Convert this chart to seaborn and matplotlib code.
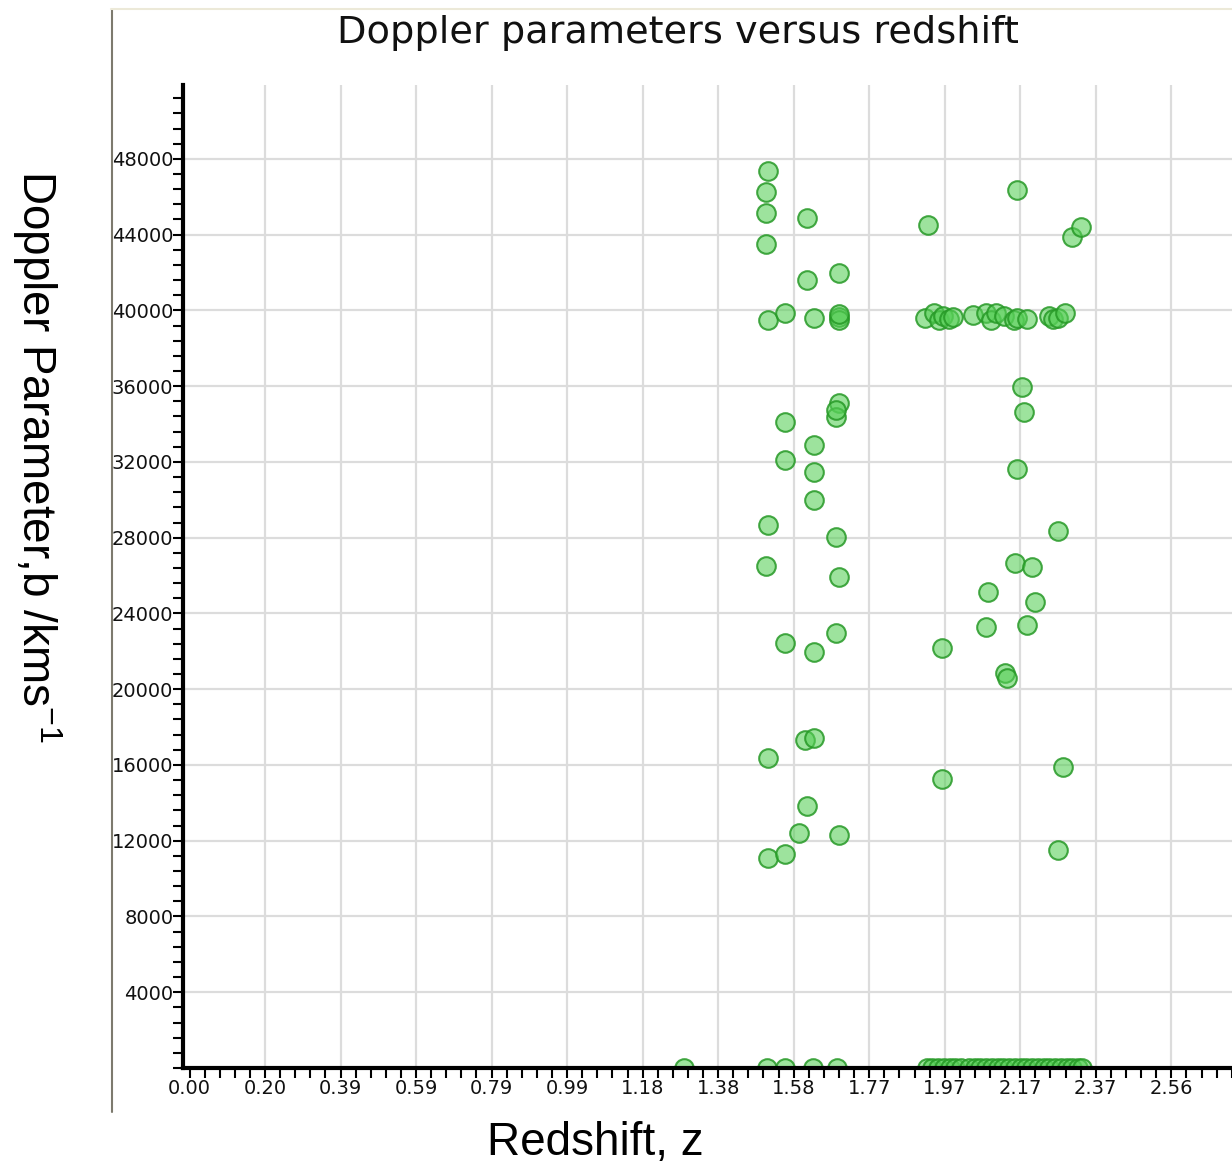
import numpy as np
import pandas as pd
import matplotlib
matplotlib.use("Agg")
import matplotlib.pyplot as plt
import seaborn as sns
from matplotlib.lines import Line2D
from matplotlib.ticker import MultipleLocator, FixedLocator, FuncFormatter

# ---------------- data ----------------
# left cluster (z ~ 1.29 - 1.70)
z_left = [1.510, 1.505, 1.505, 1.505, 1.510, 1.510, 1.505, 1.510, 1.510,
          1.555, 1.555, 1.555, 1.555, 1.555,
          1.612, 1.612, 1.606, 1.612, 1.591,
          1.630, 1.630, 1.630, 1.630, 1.630, 1.630,
          1.695, 1.695, 1.695, 1.695, 1.695, 1.689, 1.689, 1.689, 1.695, 1.689, 1.695]
b_left = [47370, 46260, 45150, 43520, 39500, 28670, 26510, 16370, 11090,
          39870, 34110, 32110, 22440, 11300,
          44890, 41610, 17320, 13840, 12410,
          39610, 32900, 31470, 30000, 21970, 17430,
          41980, 39660, 39500, 39800, 35120, 34380, 34750, 28040, 25930, 22970, 12300]

# right cluster (z ~ 1.92 - 2.33), scattered values
z_right = [1.929, 2.160, 2.305, 2.329,
           2.175, 2.178, 2.162, 2.269, 2.155, 2.199, 2.085, 2.209, 2.080, 2.188,
           1.965, 2.129, 2.134, 2.282, 1.965, 2.269]
b_right = [44520, 46370, 43890, 44410,
           35960, 34640, 31630, 28360, 26670, 26460, 25140, 24610, 23290, 23390,
           22180, 20860, 20590, 15890, 15260, 11510]

# right cluster, row near 40000 km/s
z_row = [1.921, 1.944, 1.957, 1.968, 1.983, 1.994, 2.046, 2.080, 2.092,
         2.106, 2.126, 2.152, 2.162, 2.188, 2.243, 2.256, 2.269, 2.287]
b_row = [39600, 39870, 39500, 39710, 39550, 39650, 39760, 39870, 39500,
         39870, 39710, 39500, 39600, 39550, 39710, 39550, 39600, 39870]

# points sitting on b = 0
z_zero = [1.291, 1.508, 1.556, 1.629, 1.691,
          1.925, 1.940, 1.955, 1.970, 1.985, 2.000, 2.015, 2.035, 2.050, 2.065,
          2.080, 2.095, 2.110, 2.125, 2.140, 2.155, 2.170, 2.185, 2.200, 2.215,
          2.230, 2.245, 2.260, 2.275, 2.290, 2.305, 2.320, 2.330]
b_zero = [0] * len(z_zero)

x_tick_step = 0.1972
y_tick_labels = [4000, 8000, 12000, 16000, 20000, 24000, 28000, 32000,
                 36000, 40000, 44000, 48000]

title_text = "Doppler parameters versus redshift"
xlabel_text = "Redshift, z"
ylabel_text = r"Doppler Parameter,b /kms$^{-1}$"

df = pd.DataFrame({
    "z": z_left + z_right + z_row + z_zero,
    "b": b_left + b_right + b_row + b_zero,
})

# ---------------- styling ----------------
sns.set_style("white")
plt.rcParams["font.family"] = ["DejaVu Sans"]
plt.rcParams["mathtext.fontset"] = "custom"
plt.rcParams["mathtext.rm"] = "Liberation Sans"
plt.rcParams["mathtext.it"] = "Liberation Sans:italic"
plt.rcParams["mathtext.default"] = "regular"

fig = plt.figure(figsize=(12.32, 11.70), dpi=100)
ax = fig.add_axes([183 / 1232, 1 - 1068 / 1170, 1 - 183 / 1232 + 0.01, (1068 - 85) / 1170])

sns.scatterplot(data=df, x="z", y="b", ax=ax, s=180, linewidth=1.5,
                color="#4cc84c", legend=False, zorder=2)
coll = ax.collections[0]
coll.set_facecolor((0.34, 0.81, 0.34, 0.58))
coll.set_edgecolor((0.15, 0.60, 0.15, 0.85))

px_per_unit = 75.5 / x_tick_step
x0_px = 189.5
ax.set_xlim((183 - x0_px) / px_per_unit, (1244 - x0_px) / px_per_unit)
ax.set_ylim(0, 51900)

ax.xaxis.set_major_locator(MultipleLocator(x_tick_step))
ax.xaxis.set_minor_locator(MultipleLocator(x_tick_step / 5))
ax.xaxis.set_major_formatter(FuncFormatter(lambda v, p: f"{abs(v):.2f}"))
ax.yaxis.set_major_locator(FixedLocator(y_tick_labels))
ax.yaxis.set_minor_locator(MultipleLocator(800))
ax.yaxis.set_major_formatter(FuncFormatter(lambda v, p: f"{int(round(v))}"))

ax.grid(True, which="major", color="#dcdcdc", linewidth=1.6)
ax.set_axisbelow(True)

for side in ["top", "right"]:
    ax.spines[side].set_visible(False)
for side in ["left", "bottom"]:
    ax.spines[side].set_color("black")
    ax.spines[side].set_linewidth(3)
    ax.spines[side].set_zorder(3)

ax.tick_params(axis="both", which="both", direction="out", color="black",
               bottom=True, left=True, top=False, right=False,
               width=1.5, length=7, labelsize=14, labelcolor="#111111")
ax.tick_params(axis="y", which="major", pad=0)
ax.tick_params(axis="x", which="major", pad=1)
ax.set_xlabel("")
ax.set_ylabel("")

# hide the gridline at z = 0 (sits against the axis line)
fig.canvas.draw()
for tick, loc in zip(ax.xaxis.get_major_ticks(), ax.xaxis.get_majorticklocs()):
    if abs(loc) < 1e-9:
        tick.gridline.set_visible(False)

# titles / labels
fig.text(678 / 1232, 1 - 33 / 1170, title_text, ha="center", va="center",
         fontsize=27.5, family="DejaVu Sans", color="#111111")
fig.text(595 / 1232, 1 - 1143 / 1170, xlabel_text, ha="center", va="center",
         fontsize=33, family="Liberation Sans", color="black")
fig.text(37 / 1232, 1 - 456 / 1170, ylabel_text, ha="center", va="center",
         rotation=270, fontsize=33, family="Liberation Sans", color="black")

# panel frame lines
fig.add_artist(Line2D([111.5 / 1232, 111.5 / 1232], [1 - 10 / 1170, 1 - 1112 / 1170],
                      transform=fig.transFigure, color="#7d7a6e", linewidth=1.5))
fig.add_artist(Line2D([111 / 1232, 1.0], [1 - 8.5 / 1170, 1 - 8.5 / 1170],
                      transform=fig.transFigure, color="#ece9d8", linewidth=1.5))

fig.savefig("out.png", dpi=100)
